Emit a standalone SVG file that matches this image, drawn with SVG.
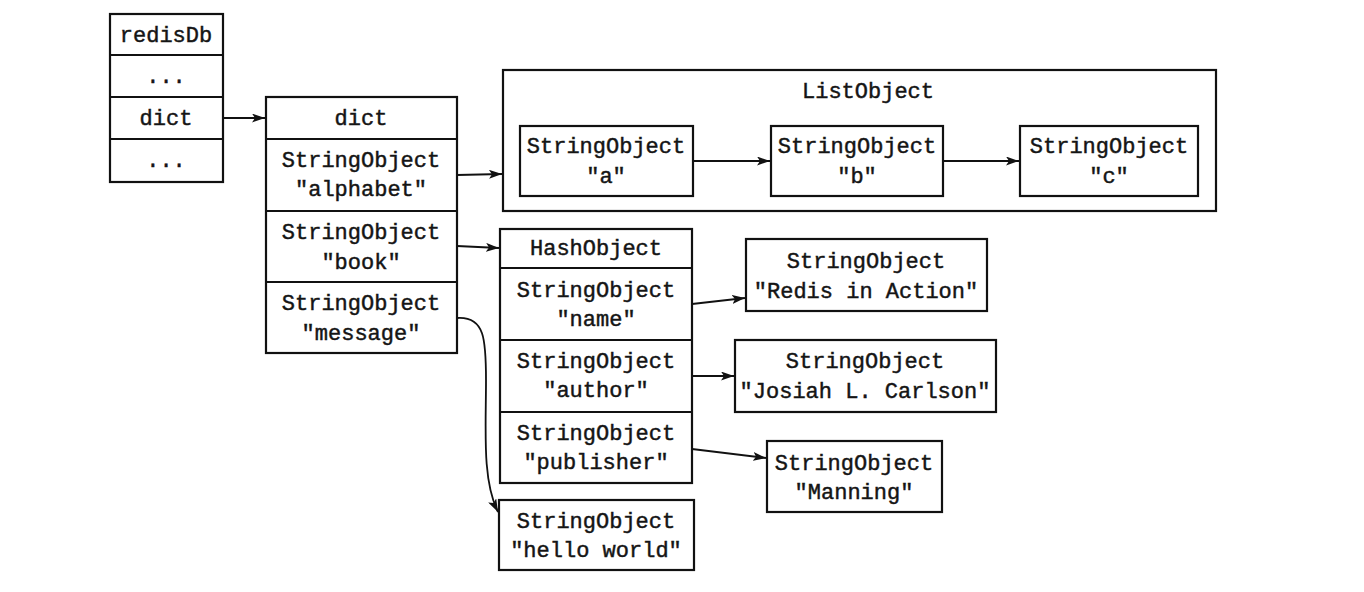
<svg xmlns="http://www.w3.org/2000/svg" width="1364" height="592" viewBox="0 0 1364 592">
<defs>
<style>
rect{fill:#fff;stroke:#111;stroke-width:2.2}
line.sep{stroke:#111;stroke-width:2.2}
text{font-family:"Liberation Mono","DejaVu Sans Mono",monospace;font-size:22px;fill:#151515;stroke:#151515;stroke-width:0.45;text-anchor:middle;dominant-baseline:central}
.c{fill:none;stroke:#111;stroke-width:1.8}
</style>
<marker id="ah" viewBox="0 0 13 9" refX="13" refY="4.5" markerWidth="13" markerHeight="9" markerUnits="userSpaceOnUse" orient="auto">
<path d="M0,0 L13,4.5 L0,9 L3,4.5 Z" fill="#111"/>
</marker>
</defs>
<rect x="0" y="0" width="1364" height="592" style="stroke:none"/>

<g id="redisDb">
<rect x="110" y="14" width="113" height="168"/>
<line class="sep" x1="110" y1="55" x2="223" y2="55"/>
<line class="sep" x1="110" y1="97" x2="223" y2="97"/>
<line class="sep" x1="110" y1="139" x2="223" y2="139"/>
<text x="166" y="36">redisDb</text>
<text x="166" y="77">...</text>
<text x="166" y="119">dict</text>
<text x="166" y="161">...</text>
</g>

<g id="dict">
<rect x="266" y="97" width="191" height="256"/>
<line class="sep" x1="266" y1="139" x2="457" y2="139"/>
<line class="sep" x1="266" y1="211" x2="457" y2="211"/>
<line class="sep" x1="266" y1="282" x2="457" y2="282"/>
<text x="361" y="119">dict</text>
<text x="361" y="161">StringObject</text>
<text x="361" y="190">"alphabet"</text>
<text x="361" y="233">StringObject</text>
<text x="361" y="263">"book"</text>
<text x="361" y="304">StringObject</text>
<text x="361" y="334">"message"</text>
</g>

<g id="ListObject">
<rect x="503" y="70" width="713" height="141"/>
<text x="868" y="92">ListObject</text>
</g>
<g id="str-a">
<rect x="520" y="126" width="173" height="70"/>
<text x="606" y="147">StringObject</text>
<text x="606" y="177">"a"</text>
</g>
<g id="str-b">
<rect x="771" y="126" width="172" height="70"/>
<text x="857" y="147">StringObject</text>
<text x="857" y="177">"b"</text>
</g>
<g id="str-c">
<rect x="1020" y="126" width="178" height="70"/>
<text x="1109" y="147">StringObject</text>
<text x="1109" y="177">"c"</text>
</g>

<g id="HashObject">
<rect x="500" y="229" width="192" height="254"/>
<line class="sep" x1="500" y1="268" x2="692" y2="268"/>
<line class="sep" x1="500" y1="340" x2="692" y2="340"/>
<line class="sep" x1="500" y1="412" x2="692" y2="412"/>
<text x="596" y="249">HashObject</text>
<text x="596" y="291">StringObject</text>
<text x="596" y="320">"name"</text>
<text x="596" y="362">StringObject</text>
<text x="596" y="391">"author"</text>
<text x="596" y="434">StringObject</text>
<text x="596" y="463">"publisher"</text>
</g>

<g id="str-redis">
<rect x="746" y="239" width="241" height="72"/>
<text x="866" y="262">StringObject</text>
<text x="866" y="292">"Redis in Action"</text>
</g>
<g id="str-josiah">
<rect x="735" y="340" width="261" height="72"/>
<text x="865" y="362">StringObject</text>
<text x="865" y="392">"Josiah L. Carlson"</text>
</g>
<g id="str-manning">
<rect x="767" y="441" width="175" height="71"/>
<text x="854" y="464">StringObject</text>
<text x="854" y="493">"Manning"</text>
</g>
<g id="str-hello">
<rect x="499" y="500" width="195" height="70"/>
<text x="596" y="522">StringObject</text>
<text x="596" y="551">"hello world"</text>
</g>

<g id="connectors">
<line class="c" x1="223" y1="118" x2="265" y2="118" marker-end="url(#ah)"/>
<line class="c" x1="457" y1="175" x2="502" y2="174" marker-end="url(#ah)"/>
<line class="c" x1="457" y1="246" x2="499" y2="248" marker-end="url(#ah)"/>
<line class="c" x1="693" y1="161" x2="770" y2="161" marker-end="url(#ah)"/>
<line class="c" x1="943" y1="161" x2="1019" y2="161" marker-end="url(#ah)"/>
<line class="c" x1="692" y1="304" x2="745" y2="298" marker-end="url(#ah)"/>
<line class="c" x1="692" y1="376" x2="734" y2="376" marker-end="url(#ah)"/>
<line class="c" x1="692" y1="449" x2="766" y2="458" marker-end="url(#ah)"/>
<path class="c" d="M457,318 C485,316 486,340 486,380 C486,430 482,480 498,512" marker-end="url(#ah)"/>
</g>
</svg>
